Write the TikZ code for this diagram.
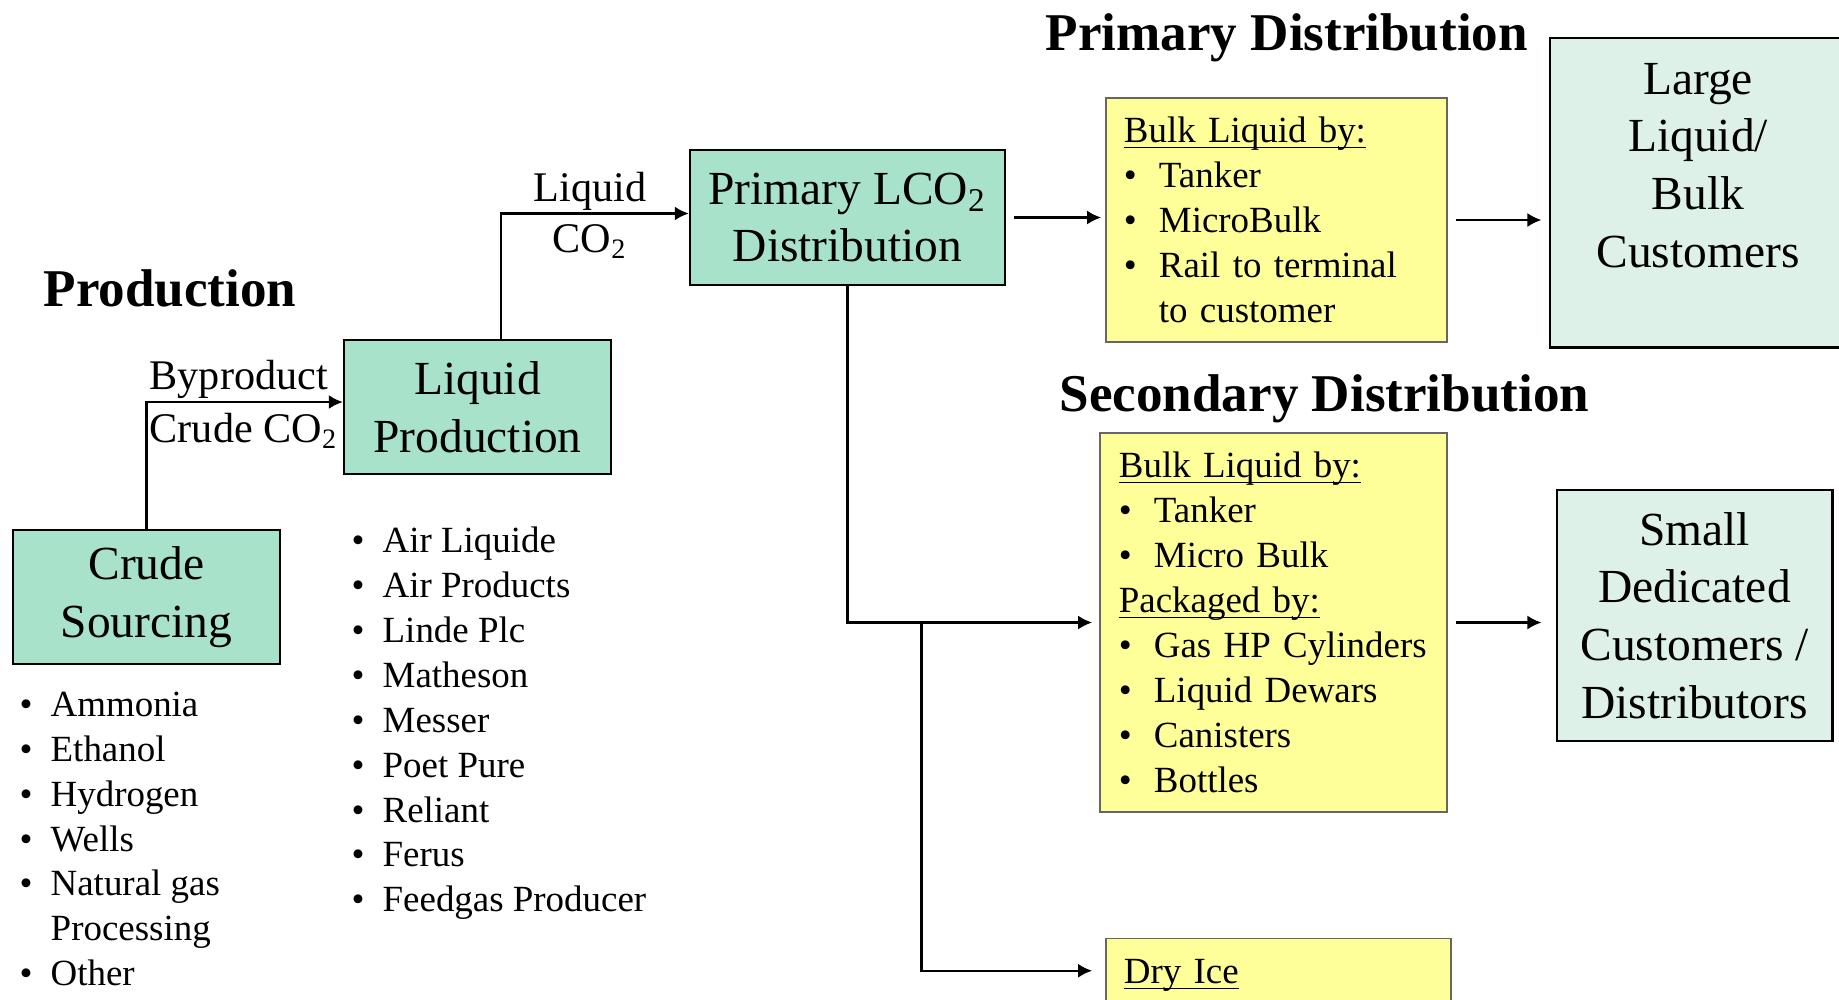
\documentclass[tikz,border=0pt]{standalone}
\usepackage{fontspec}
\setmainfont{Liberation Serif}
\usetikzlibrary{arrows.meta}

\definecolor{mintfill}{HTML}{A9E2CB}
\definecolor{custfill}{HTML}{DDF1E8}
\definecolor{notefill}{HTML}{FFFF99}

\newcommand{\bxfont}{\fontsize{13.5}{16.4}\selectfont}
\newcommand{\hdfont}{\fontsize{15.1}{18}\selectfont\bfseries}
\newcommand{\lstfont}{\fontsize{10.5}{12.78}\selectfont}
\newcommand{\lblfont}{\fontsize{12}{14}\selectfont}
\newcommand{\itm}[1]{\makebox[0.35cm][l]{\textbullet}#1}
\newcommand{\pitm}[1]{\makebox[0.31cm][l]{\textbullet}#1}
\newcommand{\ulhead}[1]{\underline{\raisebox{0pt}[\height][0pt]{#1}}}

\begin{document}
\begin{tikzpicture}[
        x=0.01cm, y=-0.01cm, % 1 единица = 1 пиксель
        arr/.style = {draw, line width=0.7pt, -{Latex[length=4pt,width=4pt]}},
        prod/.style = {draw, line width=0.6pt, fill=mintfill, align=center, font=\bxfont,
                minimum width=2.67cm, minimum height=1.34cm}, % Зеленые блоки
        cust/.style = {draw, line width=0.8pt, fill=custfill, align=center, font=\bxfont}, % Потребители
        note/.style = {draw=black!60, line width=0.4pt, fill=notefill, align=left,
                font=\lstfont, inner xsep=0.18cm}, % Желтые блоки
        head/.style = {font=\hdfont, anchor=base west, inner sep=0},
        lst/.style = {align=left, font=\lstfont, anchor=north west, inner sep=0},
        lbl/.style = {font=\lblfont, inner sep=0.02cm},
    ]
    \useasboundingbox (0,0) rectangle (1839,999);

    \node[head] (prodhead) at (43,306) {Production};
    \node[head] (primhead) at (1045,50) {Primary Distribution};
    \node[head] (sechead) at (1059,411) {Secondary Distribution};

    \node[prod] (crude) at (146.5,597) {Crude\\Sourcing};
    \node[prod] (liqprod) at (477.5,407) {Liquid\\Production};
    \node[prod, minimum width=3.15cm, minimum height=1.35cm] (primary) at (847.5,217.5) {Primary LCO\textsubscript{2}\\Distribution};

    \node[note, text width=3.05cm, minimum height=2.44cm] (primbox) at (1276.5,220)
        {\ulhead{Bulk Liquid by:}\\\itm{Tanker}\\\itm{MicroBulk}\\\itm{Rail to terminal}\\\hspace*{0.35cm}to customer};
    \node[note, text width=3.09cm, inner xsep=0.19cm, minimum height=3.79cm] (secbox) at (1273.5,622.5)
        {\ulhead{Bulk Liquid by:}\\\itm{Tanker}\\\itm{Micro Bulk}\\\ulhead{Packaged by:}\\\itm{Gas HP Cylinders}\\\itm{Liquid Dewars}\\\itm{Canisters}\\\itm{Bottles}};
    \node[note, text width=3.09cm, minimum height=0.72cm, anchor=north] (dryice) at (1278.5,938) {\ulhead{Dry Ice}};

    \node[cust, minimum width=2.96cm, minimum height=3.09cm,
        label={[align=center, font=\bxfont, yshift=0.27cm]center:{Large\\Liquid/\\Bulk\\Customers}}] (large) at (1698,192.5) {};
    \node[cust, minimum width=2.75cm, minimum height=2.51cm] (small) at (1694.5,615.5) {Small\\Dedicated\\Customers /\\Distributors};

    \node[lst] (crudelist) at (19,691) {\pitm{Ammonia}\\\pitm{Ethanol}\\\pitm{Hydrogen}\\\pitm{Wells}\\\pitm{Natural gas}\\\hspace*{0.31cm}Processing\\\pitm{Other}};
    \node[lst] (liqlist) at (351,526) {\pitm{Air Liquide}\\\pitm{Air Products}\\\pitm{Linde Plc}\\\pitm{Matheson}\\\pitm{Messer}\\\pitm{Poet Pure}\\\pitm{Reliant}\\\pitm{Ferus}\\\pitm{Feedgas Producer}};

    \draw[arr] (crude.north) |- node[lbl, above right] {Byproduct}
        node[lbl, below right, yshift=-0.08cm] {Crude CO\textsubscript{2}} ([yshift=0.05cm]liqprod.west);
    \draw[arr] ([xshift=0.235cm]liqprod.north) |- node[lbl, pos=0.75, above, xshift=-0.05cm] {Liquid}
        node[lbl, pos=0.75, below, yshift=-0.075cm, xshift=-0.05cm] {CO\textsubscript{2}} ([yshift=0.04cm]primary.west);
    \draw[arr, shorten <=0.08cm, shorten >=0.04cm] (primary.east) -- (primary.east -| primbox.west);
    \draw[arr, shorten <=0.08cm, shorten >=0.07cm] (primbox.east) -- (primbox.east -| large.west);
    \draw[arr, shorten <=0.08cm, shorten >=0.14cm] (secbox.east) -- (secbox.east -| small.west);
    \draw[arr, shorten >=0.07cm] (primary.south) |- (secbox.west);
    \coordinate (split) at ([xshift=0.74cm]primary.south |- secbox.west);
    \draw[arr, shorten >=0.13cm] (split) |- ([yshift=0.04cm]dryice.west);
\end{tikzpicture}
\end{document}
